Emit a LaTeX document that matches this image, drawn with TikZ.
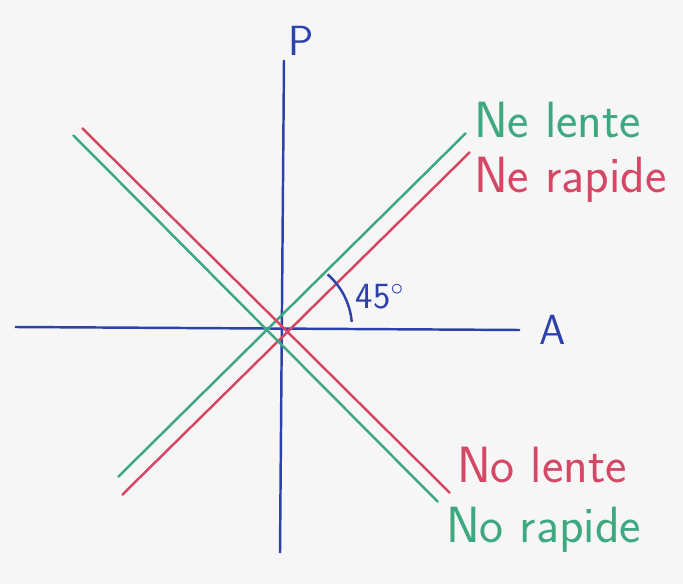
\documentclass[tikz,border=0pt]{standalone}
\usepackage{tikz}
\usetikzlibrary{positioning,calc}
\definecolor{paper}{RGB}{246,246,246}
\definecolor{axisblue}{RGB}{45,65,170}
\definecolor{lentegreen}{RGB}{62,168,128}
\definecolor{rapidered}{RGB}{212,72,102}

\begin{document}
\begin{tikzpicture}[
    x=0.02cm, y=-0.02cm,
    axis/.style={draw=axisblue, line width=1.4pt},
    greenline/.style={draw=lentegreen, line width=1.4pt},
    redline/.style={draw=rapidered, line width=1.4pt},
    label/.style={font=\sffamily\fontsize{24}{28}\selectfont, inner sep=1pt},
    curvelabel/.style={font=\sffamily\fontsize{29}{32}\selectfont, inner sep=1pt, anchor=west},
]
\useasboundingbox[fill=paper] (0,0) rectangle (683,584);

% === AXES ===
\coordinate (O) at (281,328);
\coordinate (p_top) at (284,60);
\coordinate (p_bot) at (280,553);
\coordinate (a_left) at (15,327);
\coordinate (a_right) at (520,330);
\draw[axis] (p_bot) -- (p_top);
\draw[axis] (a_left) -- (a_right);
\node[label, text=axisblue, above right=0.05cm and 0.05cm of p_top] (p_lab) {P};
\node[label, text=axisblue, right=0.35cm of a_right] (a_lab) {A};

% === LINES ===
\coordinate (ne_l_a) at (118,477);
\coordinate (ne_l_b) at (466,133);
\coordinate (ne_r_a) at (122,495);
\coordinate (ne_r_b) at (470,152);
\coordinate (no_l_a) at (82,128);
\coordinate (no_l_b) at (450,493);
\coordinate (no_r_a) at (73,135);
\coordinate (no_r_b) at (438,502);
\draw[greenline] (ne_l_a) -- (ne_l_b);
\draw[redline] (ne_r_a) -- (ne_r_b);
\draw[redline] (no_l_a) -- (no_l_b);
\draw[greenline] (no_r_a) -- (no_r_b);

% === LABELS ===
\node[curvelabel, text=lentegreen] (ne_lente) at (472,120) {Ne lente};
\node[curvelabel, text=rapidered] (ne_rapide) at (472,180) {Ne rapide};
\node[curvelabel, text=rapidered] (no_lente) at (455,465) {No lente};
\node[curvelabel, text=lentegreen] (no_rapide) at (444,530) {No rapide};

% === ANGLE ===
\draw[axis] ($(O)+(-49:71)$) arc[start angle=-49, end angle=-5, radius=71];
\node[label, text=axisblue, font=\sffamily\fontsize{21}{24}\selectfont] (angle) at (380,297) {45$^\circ$};

\end{tikzpicture}
\end{document}
